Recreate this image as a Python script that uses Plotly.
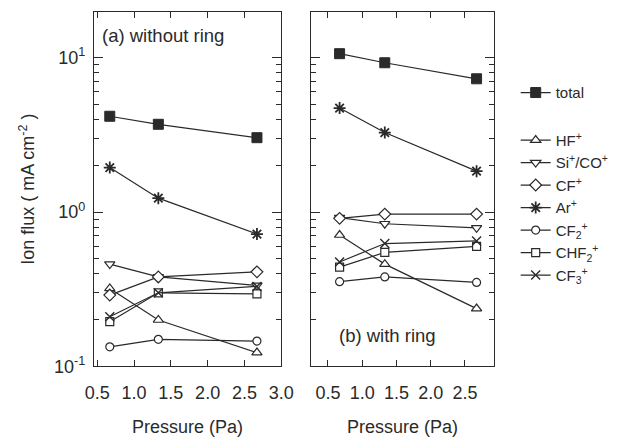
import plotly.graph_objects as go

pressure = [0.67, 1.33, 2.67]

species = ["total", "HF<sup>+</sup>", "Si<sup>+</sup>/CO<sup>+</sup>", "CF<sup>+</sup>",
           "Ar<sup>+</sup>", "CF<sub>2</sub><sup>+</sup>", "CHF<sub>2</sub><sup>+</sup>",
           "CF<sub>3</sub><sup>+</sup>"]

# (a) without ring
total_a = [4.17, 3.70, 3.03]
hf_a = [0.32, 0.20, 0.123]
sico_a = [0.46, 0.38, 0.335]
cf_a = [0.29, 0.38, 0.41]
ar_a = [1.94, 1.23, 0.72]
cf2_a = [0.134, 0.150, 0.146]
chf2_a = [0.195, 0.30, 0.295]
cf3_a = [0.21, 0.30, 0.33]

# (b) with ring
total_b = [10.6, 9.26, 7.29]
hf_b = [0.71, 0.46, 0.237]
sico_b = [0.92, 0.84, 0.79]
cf_b = [0.91, 0.97, 0.97]
ar_b = [4.71, 3.27, 1.84]
cf2_b = [0.354, 0.38, 0.35]
chf2_b = [0.44, 0.548, 0.60]
cf3_b = [0.475, 0.625, 0.65]

ytick_vals = [0.1, 1, 10]
ytick_text = ["10<sup>-1</sup>", "10<sup>0</sup>", "10<sup>1</sup>"]

INK = "#2a2a2a"
FONT = "Liberation Sans, Arial, sans-serif"

styles = [
    dict(symbol="square", size=10, color=INK, line=dict(color=INK, width=1)),
    dict(symbol="triangle-up", size=9, color="white", line=dict(color=INK, width=1.2)),
    dict(symbol="triangle-down", size=9, color="white", line=dict(color=INK, width=1.2)),
    dict(symbol="diamond", size=9, color="white", line=dict(color=INK, width=1.2)),
    dict(symbol="asterisk-open", size=10, color=INK, line=dict(color=INK, width=1.8)),
    dict(symbol="circle", size=8, color="white", line=dict(color=INK, width=1.2)),
    dict(symbol="square", size=8, color="white", line=dict(color=INK, width=1.2)),
    dict(symbol="x-thin-open", size=9, color=INK, line=dict(color=INK, width=1.4)),
]

set_a = [total_a, hf_a, sico_a, cf_a, ar_a, cf2_a, chf2_a, cf3_a]
set_b = [total_b, hf_b, sico_b, cf_b, ar_b, cf2_b, chf2_b, cf3_b]

fig = go.Figure()
for i, (name, ya) in enumerate(zip(species, set_a)):
    fig.add_trace(go.Scatter(
        x=pressure, y=ya, name=name, mode="lines+markers",
        line=dict(color=INK, width=1.2), marker=styles[i],
        legendgroup="g1" if i == 0 else "g2",
        xaxis="x", yaxis="y"))
for i, (name, yb) in enumerate(zip(species, set_b)):
    fig.add_trace(go.Scatter(
        x=pressure, y=yb, name=name, mode="lines+markers",
        line=dict(color=INK, width=1.2), marker=styles[i],
        showlegend=False, xaxis="x2", yaxis="y2"))

minor_vals = [v * m for v in (0.1, 1, 10) for m in range(2, 10)]

xcommon = dict(showline=True, linecolor=INK, linewidth=1.3, mirror="ticks",
               ticks="inside", ticklen=6, tickcolor=INK, tickwidth=1.2,
               showgrid=False, zeroline=False, ticklabelstandoff=10,
               tickfont=dict(family=FONT, size=18, color=INK),
               title=dict(text="Pressure (Pa)", font=dict(family=FONT, size=18, color=INK),
                          standoff=18),
               tickvals=[0.5, 1.0, 1.5, 2.0, 2.5, 3.0],
               ticktext=["0.5", "1.0", "1.5", "2.0", "2.5", "3.0"])
ycommon = dict(type="log", range=[-1, 1.297], showline=True, linecolor=INK, linewidth=1.3,
               mirror="ticks", ticks="inside", ticklen=9, tickcolor=INK, tickwidth=1.2,
               showgrid=False, zeroline=False, tickvals=ytick_vals,
               minor=dict(tickmode="array", tickvals=minor_vals, ticks="inside", ticklen=5,
                          tickcolor=INK, tickwidth=1, showgrid=False),
               domain=[0.1497, 0.9728])

fig.update_layout(
    width=631, height=441, margin=dict(l=0, r=0, t=0, b=0),
    paper_bgcolor="white", plot_bgcolor="white",
    font=dict(family=FONT, color=INK),
    xaxis=dict(xcommon, domain=[0.1395, 0.447], range=[0.455, 3.0]),
    xaxis2=dict(xcommon, domain=[0.4956, 0.797], range=[0.25, 2.93], anchor="y2"),
    yaxis=dict(ycommon, ticktext=ytick_text, tickfont=dict(family=FONT, size=18, color=INK),
               ticklabelstandoff=4,
               title=dict(text="Ion flux ( mA cm<sup>-2</sup> )",
                          font=dict(family=FONT, size=18, color=INK), standoff=14)),
    yaxis2=dict(ycommon, showticklabels=False, anchor="x2"),
    legend=dict(x=0.832, y=0.823, xanchor="left", yanchor="top",
                font=dict(family=FONT, size=15, color=INK),
                traceorder="grouped", tracegroupgap=25, bgcolor="rgba(0,0,0,0)",
                itemwidth=30),
    annotations=[
        dict(text="(a) without ring", x=0.03, y=0.968, xref="x domain", yref="y domain",
             xanchor="left", yanchor="top", showarrow=False,
             font=dict(family=FONT, size=18.5, color=INK)),
        dict(text="(b) with ring", x=0.142, y=0.088, xref="x2 domain", yref="y2 domain",
             xanchor="left", yanchor="middle", showarrow=False,
             font=dict(family=FONT, size=18.5, color=INK)),
    ],
)

fig.write_html("out.html")
